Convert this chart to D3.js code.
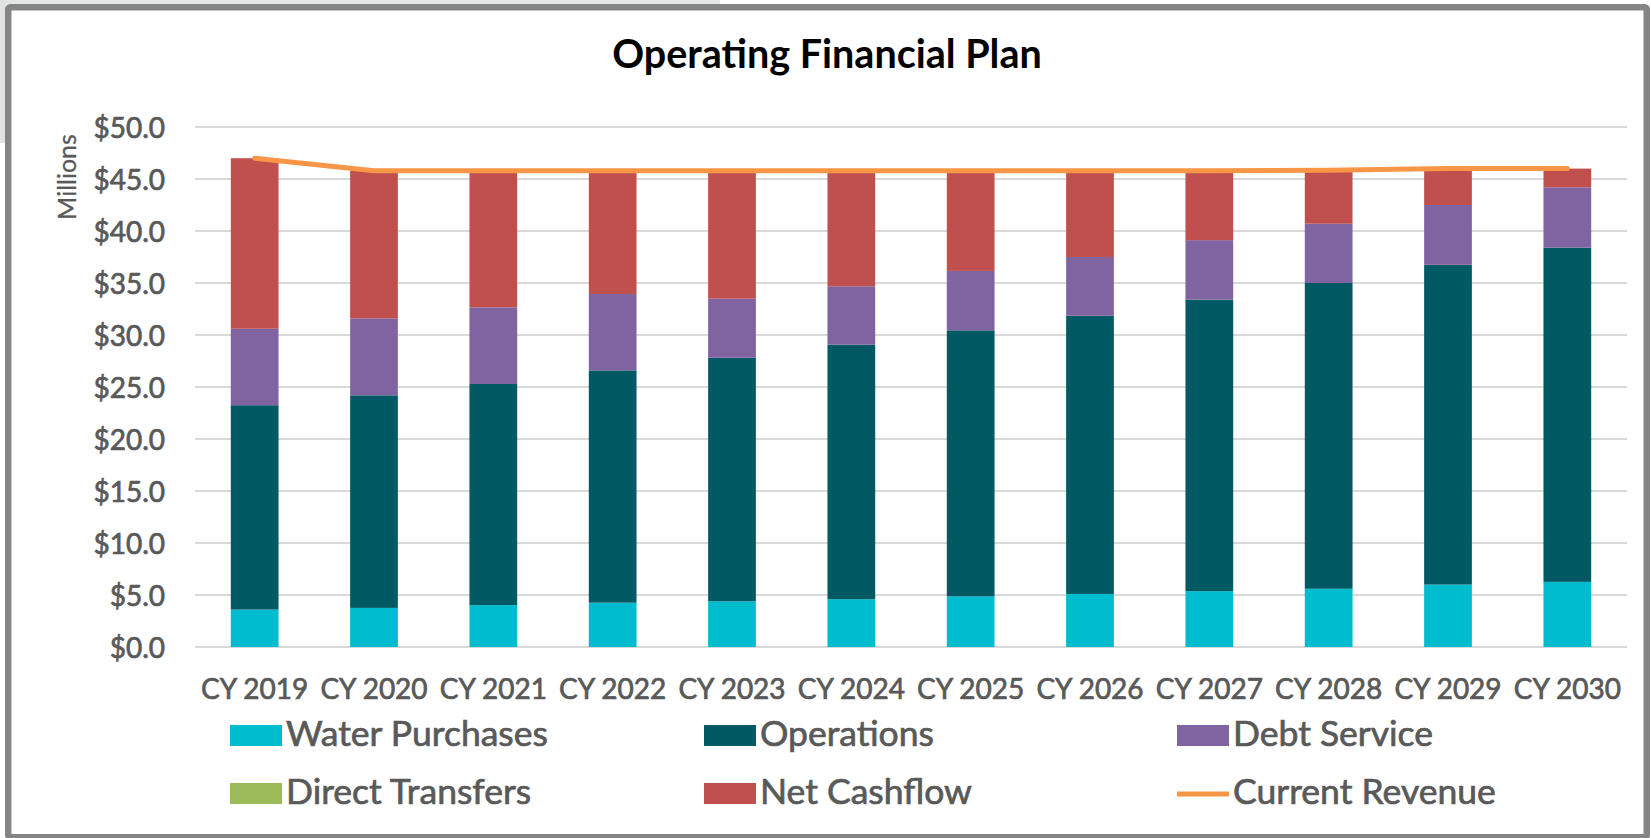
<!DOCTYPE html>
<html>
<head>
<meta charset="utf-8">
<script src="https://cdnjs.cloudflare.com/ajax/libs/d3/7.8.5/d3.min.js"></script>
<style>
  html, body { margin: 0; padding: 0; background: #ffffff; }
  svg { display: block; }
  text { font-family: Lato, "Open Sans", "Liberation Sans", sans-serif; }
</style>
</head>
<body>
<svg id="chart" width="1651" height="838"></svg>
<script>
// Operating financial plan, $ millions per calendar year
const years = ["CY 2019", "CY 2020", "CY 2021", "CY 2022", "CY 2023", "CY 2024",
               "CY 2025", "CY 2026", "CY 2027", "CY 2028", "CY 2029", "CY 2030"];
const waterPurchases  = [3.60, 3.76, 4.03, 4.26, 4.39, 4.60, 4.87, 5.10, 5.37, 5.60, 6.00, 6.26];
const operations      = [19.65, 20.44, 21.26, 22.34, 23.42, 24.47, 25.58, 26.75, 28.03, 29.40, 30.75, 32.14];
const debtService     = [7.35, 7.40, 7.37, 7.34, 5.68, 5.61, 5.71, 5.65, 5.72, 5.70, 5.75, 5.80];
const directTransfers = [0, 0, 0, 0, 0, 0, 0, 0, 0, 0, 0, 0];
const netCashflow     = [16.40, 14.20, 13.14, 11.86, 12.31, 11.12, 9.64, 8.30, 6.68, 5.15, 3.35, 1.80];
const currentRevenue  = [47.00, 45.80, 45.80, 45.80, 45.80, 45.80, 45.80, 45.80, 45.80, 45.85, 46.00, 46.00];
const yTicks = [0, 5, 10, 15, 20, 25, 30, 35, 40, 45, 50];

const seriesNames  = ["Water Purchases", "Operations", "Debt Service", "Direct Transfers", "Net Cashflow"];
const seriesValues = [waterPurchases, operations, debtService, directTransfers, netCashflow];
const seriesColors = ["#00BCCF", "#015963", "#8064A2", "#9BBB59", "#C0504D"];
const lineName  = "Current Revenue";
const lineColor = "#F79646";

const rows = years.map((y, i) => {
  const r = { year: y };
  seriesNames.forEach((s, k) => { r[s] = seriesValues[k][i]; });
  return r;
});

const svg = d3.select("#chart");
const W = 1651, H = 838;
const plot = { left: 195, right: 1627, top: 127, bottom: 647 };
const textGray = "#595959";

// slightly heavier label text
function labelStyle(sel, size) {
  sel.attr("font-family", "Lato, sans-serif")
    .attr("font-size", size)
    .attr("fill", textGray)
    .attr("stroke", textGray)
    .attr("stroke-width", 0.7)
    .attr("paint-order", "stroke");
}

// page edge and chart frame
svg.append("rect").attr("x", 0).attr("y", 0).attr("width", W).attr("height", H).attr("fill", "#ffffff");
svg.append("rect").attr("x", 0).attr("y", 0).attr("width", 720).attr("height", 5).attr("fill", "#e4e6e6");
svg.append("rect").attr("x", 0).attr("y", 0).attr("width", 6).attr("height", 143).attr("fill", "#e1e3e3");
svg.append("rect")
  .attr("x", 8.25).attr("y", 7.25)
  .attr("width", 1650 - 3.25 - 8.25).attr("height", 840.5 - 3.25 - 7.25)
  .attr("rx", 2)
  .attr("fill", "#ffffff")
  .attr("stroke", "#858585")
  .attr("stroke-width", 6.5);

const x = d3.scaleBand()
  .domain(years)
  .range([plot.left, plot.right])
  .paddingInner(0.6)
  .paddingOuter(0.3);

const y = d3.scaleLinear()
  .domain([0, 50])
  .range([plot.bottom, plot.top]);

// gridlines
svg.append("g")
  .selectAll("line")
  .data(yTicks)
  .join("line")
  .attr("x1", plot.left).attr("x2", plot.right)
  .attr("y1", d => y(d)).attr("y2", d => y(d))
  .attr("stroke", "#d9d9d9")
  .attr("stroke-width", 2);

// y axis labels
const yAxis = d3.axisLeft(y)
  .tickValues(yTicks)
  .tickSize(0)
  .tickPadding(0)
  .tickFormat(d => "$" + d3.format(".1f")(d));
const gy = svg.append("g").attr("transform", `translate(165,0)`).call(yAxis);
gy.select(".domain").remove();
gy.selectAll("text").call(labelStyle, 28).attr("dy", "0.36em");

// x axis labels
const xAxis = d3.axisBottom(x).tickSize(0).tickPadding(0);
const gx = svg.append("g").attr("transform", `translate(0,699)`).call(xAxis);
gx.select(".domain").remove();
gx.selectAll("text").call(labelStyle, 28).attr("dy", 0);

// stacked bars
const stacked = d3.stack().keys(seriesNames)(rows);
svg.append("g")
  .selectAll("g")
  .data(stacked)
  .join("g")
  .attr("fill", (d, i) => seriesColors[i])
  .selectAll("rect")
  .data(d => d)
  .join("rect")
  .attr("x", d => x(d.data.year))
  .attr("width", x.bandwidth())
  .attr("y", d => y(d[1]))
  .attr("height", d => y(d[0]) - y(d[1]));

// revenue line
const line = d3.line()
  .x((d, i) => x(years[i]) + x.bandwidth() / 2)
  .y(d => y(d));
svg.append("path")
  .datum(currentRevenue)
  .attr("d", line)
  .attr("fill", "none")
  .attr("stroke", lineColor)
  .attr("stroke-width", 5)
  .attr("stroke-linejoin", "round")
  .attr("stroke-linecap", "round");

// title
svg.append("text")
  .attr("x", 827).attr("y", 68)
  .attr("text-anchor", "middle")
  .attr("font-family", "Lato, sans-serif")
  .attr("font-weight", 700)
  .attr("font-size", 39.5)
  .attr("fill", "#000000")
  .text("Operating Financial Plan");

// axis unit label
svg.append("text")
  .attr("transform", "translate(76,177) rotate(-90)")
  .attr("text-anchor", "middle")
  .call(labelStyle, 25)
  .attr("stroke-width", 0.3)
  .text("Millions");

// legend
const legendItems = [
  { name: seriesNames[0], color: seriesColors[0], type: "rect" },
  { name: seriesNames[1], color: seriesColors[1], type: "rect" },
  { name: seriesNames[2], color: seriesColors[2], type: "rect" },
  { name: seriesNames[3], color: seriesColors[3], type: "rect" },
  { name: seriesNames[4], color: seriesColors[4], type: "rect" },
  { name: lineName, color: lineColor, type: "line" }
];
const colX = [230, 704, 1177];
const rowBase = [746, 804];
const lg = svg.append("g");
legendItems.forEach((it, i) => {
  const cx = colX[i % 3], by = rowBase[Math.floor(i / 3)];
  if (it.type === "rect") {
    lg.append("rect")
      .attr("x", cx).attr("y", by - 21)
      .attr("width", 52).attr("height", 21)
      .attr("fill", it.color);
  } else {
    lg.append("line")
      .attr("x1", cx).attr("x2", cx + 52)
      .attr("y1", by - 10).attr("y2", by - 10)
      .attr("stroke", it.color)
      .attr("stroke-width", 5);
  }
  lg.append("text")
    .attr("x", cx + 56).attr("y", by)
    .call(labelStyle, 35.5)
    .text(it.name);
});
</script>
</body>
</html>
